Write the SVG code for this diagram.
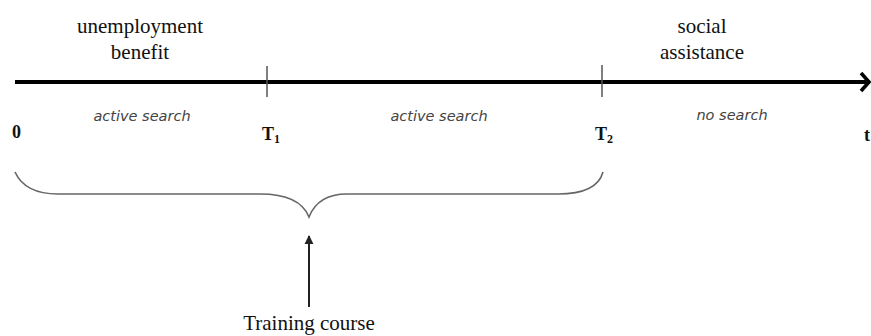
<svg xmlns="http://www.w3.org/2000/svg" width="871" height="336" viewBox="0 0 871 336">
<style>
.lbl{font-family:"Liberation Serif","Times New Roman",serif;font-size:21px;fill:#111;text-anchor:middle}
.srch{font-family:"DejaVu Sans",Verdana,sans-serif;font-style:italic;font-size:14.5px;fill:#444;text-anchor:middle}
.pt{font-family:"Liberation Serif","Times New Roman",serif;font-weight:bold;font-size:18px;fill:#111}
.sub{font-size:12px}
.tick{stroke:#555;stroke-width:1.5}
</style>
<defs>
<marker id="tri" viewBox="0 0 10 10" refX="9" refY="5" markerWidth="4.5" markerHeight="5" orient="auto" markerUnits="strokeWidth">
<path d="M0,0 L10,5 L0,10 z" fill="#222"/>
</marker>
</defs>
<rect width="871" height="336" fill="#fff"/>
<g id="connectors">
<line x1="15" y1="82" x2="868" y2="82" stroke="#000" stroke-width="4"/>
<polyline points="861,73 869,82 861,91" fill="none" stroke="#000" stroke-width="3.5"/>
<line class="tick" x1="267" y1="66" x2="267" y2="97"/>
<line class="tick" x1="602" y1="65" x2="602" y2="97"/>
<path d="M15,172 Q25,194 58,194 L260,194 Q300,194 309,217 Q318,194 347,194 L558,194 Q597,194 603,172" fill="none" stroke="#666" stroke-width="1.6"/>
<line x1="309" y1="307" x2="309" y2="236" stroke="#222" stroke-width="2" marker-end="url(#tri)"/>
</g>
<g id="unemployment-benefit">
<text class="lbl" x="140" y="33">unemployment</text>
<text class="lbl" x="140" y="59">benefit</text>
</g>
<g id="social-assistance">
<text class="lbl" x="702" y="33">social</text>
<text class="lbl" x="702" y="59">assistance</text>
</g>
<g id="search-labels">
<text class="srch" x="142" y="121">active search</text>
<text class="srch" x="439" y="121">active search</text>
<text class="srch" x="732" y="120">no search</text>
</g>
<g id="points">
<text class="pt" x="12" y="138">0</text>
<text class="pt" x="262" y="140">T<tspan class="sub" dy="3">1</tspan></text>
<text class="pt" x="595" y="140">T<tspan class="sub" dy="3">2</tspan></text>
<text class="pt" x="864" y="141">t</text>
</g>
<g id="training-course">
<text class="lbl" x="309" y="330">Training course</text>
</g>
</svg>
